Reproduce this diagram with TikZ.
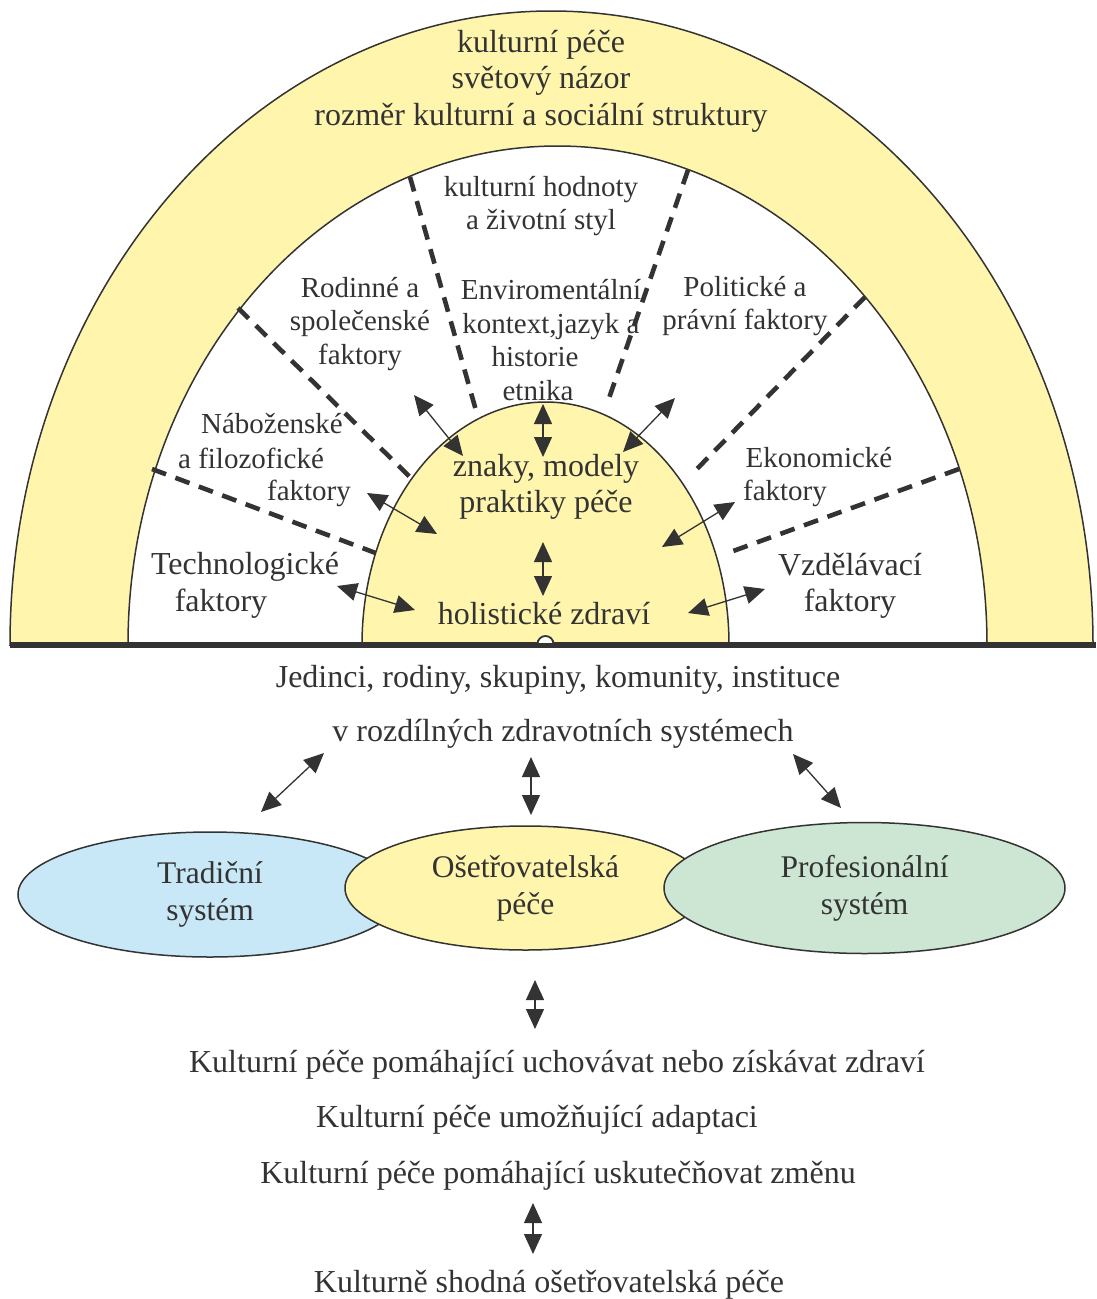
\documentclass[tikz,border=0pt]{standalone}
\usepackage{fontspec}
\setmainfont{Liberation Serif}
\usetikzlibrary{arrows.meta,shapes.geometric}
\definecolor{yel}{HTML}{FFF5AD}
\definecolor{blu}{HTML}{C9E8F7}
\definecolor{grn}{HTML}{CDE6D3}
\definecolor{dk}{HTML}{333333}
\begin{document}
\begin{tikzpicture}[x=1pt,y=-1pt,
  txt/.style={text=dk, font=\fontsize{32}{36.5}\selectfont, align=center, inner sep=0pt},
  sml/.style={text=dk, font=\fontsize{29}{33.5}\selectfont, align=center, inner sep=0pt},
  dbl/.style={draw=dk, line width=1.3pt, {Triangle[length=20pt,width=18pt]}-{Triangle[length=20pt,width=18pt]}},
  dsh/.style={draw=dk, line width=4.6pt, dash pattern=on 15pt off 10pt},
  rim/.style={draw=dk, line width=1.5pt},
  ell/.style={ellipse, draw=dk, line width=1.5pt, inner sep=0pt, text=dk, font=\fontsize{31.5}{37}\selectfont, align=center}]
\useasboundingbox (0,0) rectangle (1096,1299);
% arches
\filldraw[rim, fill=yel] (10,645) arc[start angle=180, end angle=0, x radius=541.5pt, y radius=634pt] -- cycle;
\filldraw[rim, fill=white] (128,645) arc[start angle=180, end angle=0, x radius=429.5pt, y radius=499pt] -- cycle;
% dashed spokes
\coordinate (s1a) at (152,469); \coordinate (s1b) at (381,555);
\coordinate (s2a) at (238,308); \coordinate (s2b) at (413,480);
\coordinate (s3a) at (410,177); \coordinate (s3b) at (477,414);
\coordinate (s4a) at (688,170); \coordinate (s4b) at (607,404);
\coordinate (s5a) at (865,297); \coordinate (s5b) at (692,474);
\coordinate (s6a) at (959,469); \coordinate (s6b) at (725,554);
\foreach \i in {1,...,6} \draw[dsh] (s\i a) -- (s\i b);
% dome
\filldraw[rim, fill=yel] (362,645) arc[start angle=180, end angle=0, x radius=183.5pt, y radius=243pt] -- cycle;
% base line
\coordinate (bl) at (10,645); \coordinate (br) at (1096,645);
\draw[dk, line width=6pt] (bl) -- (br);
\filldraw[draw=dk, fill=white, line width=1.8pt] (537.5,644) arc[start angle=180, end angle=0, radius=8pt] -- cycle;
% texts in arch
\node[txt] (top) at (541,81) {kulturní péče\\světový názor\\rozměr kulturní a sociální struktury};
\node[sml] (hodn) at (541,206) {kulturní hodnoty\\a životní styl};
\node[sml] (rod) at (360,324) {Rodinné a\\společenské\\faktory};
\node[sml] (env) at (551,340) {Enviromentální\\kontext,jazyk a\\\mbox{historie\kern32pt}\\\mbox{etnika\kern26pt}};
\node[sml] (pol) at (745,306) {Politické a\\právní faktory};
\node[sml] (nab1) at (272,424) {Náboženské};
\node[sml] (nab2) at (251,458) {a filozofické};
\node[sml] (nab3) at (309,493) {faktory};
\node[txt] (tech1) at (245,567) {Technologické};
\node[txt] (tech2) at (221,604) {faktory};
\node[sml] (eko1) at (819,458) {Ekonomické};
\node[sml] (eko2) at (785,493) {faktory};
\node[txt] (vzd) at (850,586) {Vzdělávací\\faktory};
\node[txt] (znak) at (546,487) {znaky, modely\\praktiky péče};
\node[txt] (hol) at (544,614) {holistické zdraví};
% arrows in arch
\coordinate (a1) at (337,586); \coordinate (a2) at (415,610);
\coordinate (b1) at (367,493); \coordinate (b2) at (437,534);
\coordinate (c1) at (414,395); \coordinate (c2) at (463,456);
\coordinate (d1) at (543,404); \coordinate (d2) at (543,457);
\coordinate (e1) at (675,398); \coordinate (e2) at (623,452);
\coordinate (f1) at (735,502); \coordinate (f2) at (662,547);
\coordinate (g1) at (543,542); \coordinate (g2) at (543,596);
\coordinate (h1) at (765,589); \coordinate (h2) at (688,613);
\foreach \p in {a,b,c,d,e,f,g,h} \draw[dbl] (\p1) -- (\p2);
% lower part
\node[txt] (jed) at (558,680) {Jedinci, rodiny, skupiny, komunity, instituce};
\node[txt] (roz) at (563,734) {v rozdílných zdravotních systémech};
\node[ell, fill=blu, minimum width=384pt, minimum height=125pt] (trad) at (210,894.5) {Tradiční\\systém};
\node[ell, fill=yel, minimum width=361pt, minimum height=124pt] (ose) at (525.5,888) {Ošetřovatelská\\péče};
\node[ell, fill=grn, minimum width=401pt, minimum height=131pt] (prof) at (864.5,888) {Profesionální\\systém};
\coordinate (i1) at (324,753); \coordinate (i2) at (261,812);
\coordinate (j1) at (531,757); \coordinate (j2) at (531,815);
\coordinate (k1) at (793,754); \coordinate (k2) at (841,808);
\coordinate (l1) at (535,980); \coordinate (l2) at (535,1029);
\coordinate (m1) at (533,1203); \coordinate (m2) at (533,1254);
\foreach \p in {i,j,k,l,m} \draw[dbl] (\p1) -- (\p2);
\node[txt] (kp1) at (557,1065) {Kulturní péče pomáhající uchovávat nebo získávat zdraví};
\node[txt] (kp2) at (537,1120) {Kulturní péče umožňující adaptaci};
\node[txt] (kp3) at (558,1176) {Kulturní péče pomáhající uskutečňovat změnu};
\node[txt] (kon) at (549,1285) {Kulturně shodná ošetřovatelská péče};
\end{tikzpicture}
\end{document}
